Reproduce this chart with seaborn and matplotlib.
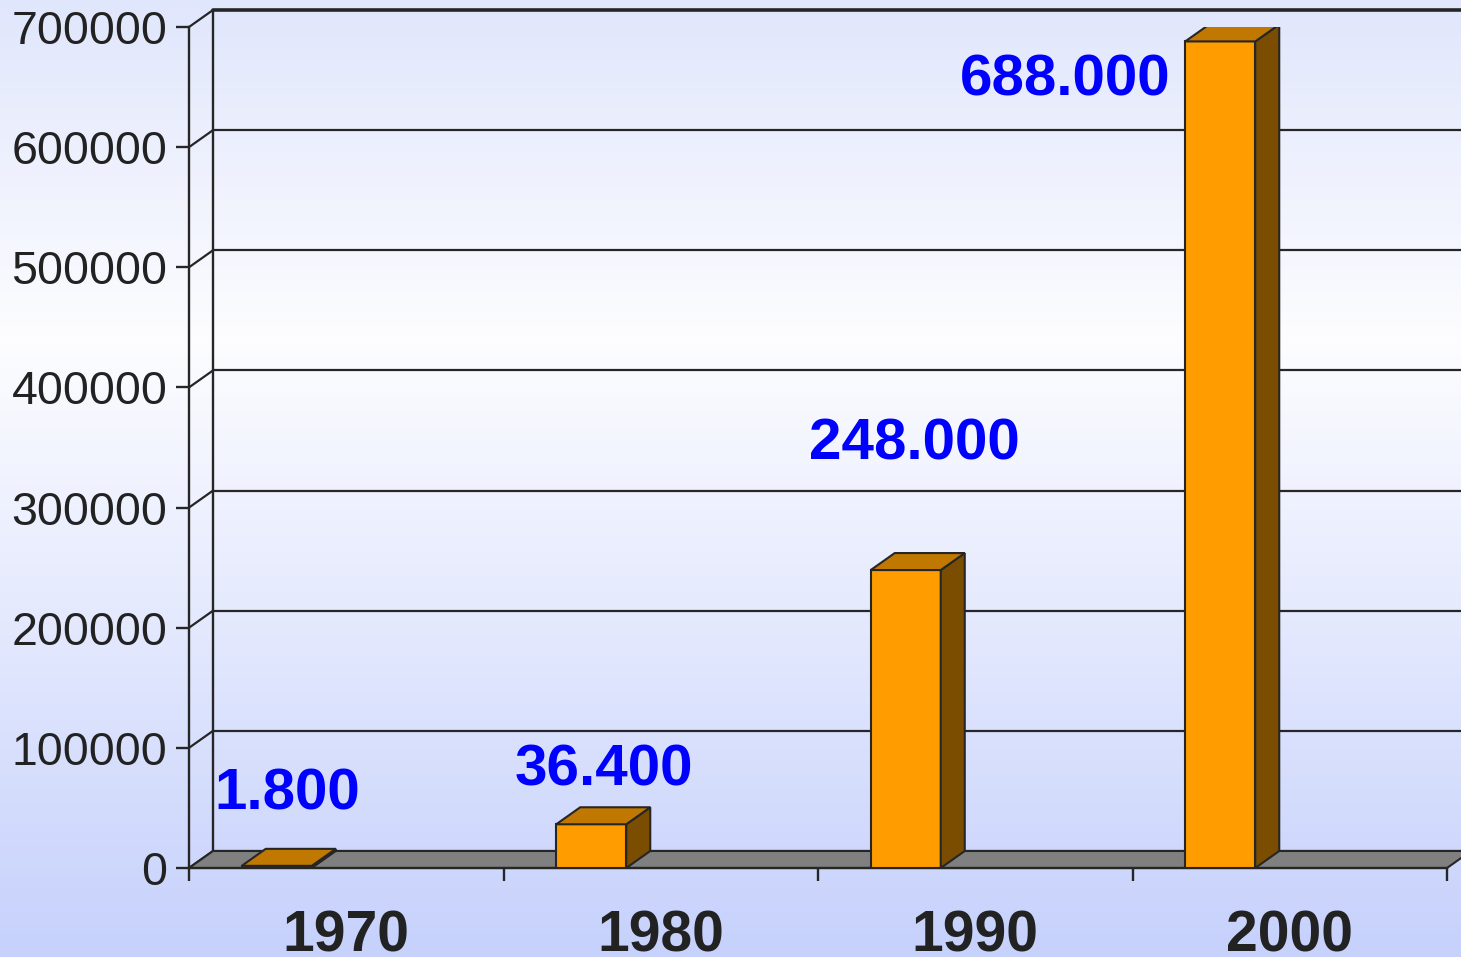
import numpy as np
import matplotlib
matplotlib.use('Agg')
import matplotlib.pyplot as plt
import seaborn as sns
from matplotlib.patches import Polygon
from matplotlib.lines import Line2D

# data
years = ['1970', '1980', '1990', '2000']
values = [1800, 36400, 248000, 688000]
value_labels = ['1.800', '36.400', '248.000', '688.000']
y_ticks = [0, 100000, 200000, 300000, 400000, 500000, 600000, 700000]

# manual label placement (x offset from category centre, baseline y)
label_dx = [-0.188, -0.180, -0.192, -0.715]
label_y = [48300, 68300, 340400, 642600]

# 3d look: depth offset of the back wall
DX = 24 / 314.5
DY = 17 / 841 * 700000
BAR_W = 0.2226
BAR_SHIFT = -0.221

FRONT = '#FF9C00'
TOP = '#C07800'
SIDE = '#7B4D00'
EDGE = '#262626'

sns.set_theme(style='ticks')
plt.rcParams['font.family'] = ['Liberation Sans', 'DejaVu Sans']

fig = plt.figure(figsize=(14.61, 9.57), dpi=100)

# background gradient
bg = fig.add_axes([0, 0, 1, 1], zorder=-1)
rows = np.arange(957)
stops = [0, 340, 956]
grad = np.stack([
    np.interp(rows, stops, [224, 253, 198]),
    np.interp(rows, stops, [230, 253, 209]),
    np.interp(rows, stops, [252, 255, 252]),
], axis=1) / 255.0
bg.imshow(grad[:, None, :], aspect='auto', extent=[0, 1, 0, 1])
bg.axis('off')

ax = fig.add_axes([189 / 1461, 89 / 957, 1258 / 1461, 841 / 957])
ax.set_facecolor('none')

sns.barplot(x=years, y=values, color=FRONT, saturation=1, width=BAR_W,
            edgecolor=EDGE, linewidth=1.5, ax=ax, zorder=4)

ax.set_xlim(-0.5, 3.5)
ax.set_ylim(0, 700000)

# back wall gridlines and left wall diagonals
for v in y_ticks:
    lw = 2.6 if v == 700000 else 1.6
    ax.add_line(Line2D([-0.5 + DX, 3.5 + DX], [v + DY, v + DY], color=EDGE,
                       lw=lw, zorder=1, clip_on=False))
    ax.add_line(Line2D([-0.5, -0.5 + DX], [v, v + DY], color=EDGE,
                       lw=1.6, zorder=1, clip_on=False))
ax.add_line(Line2D([-0.5 + DX, -0.5 + DX], [DY, 700000 + DY], color=EDGE,
                   lw=1.7, zorder=1, clip_on=False))

# floor
floor = Polygon([(-0.5, 0), (3.5, 0), (3.5 + DX, DY), (-0.5 + DX, DY)],
                closed=True, facecolor='#808080', edgecolor=EDGE, lw=1.5,
                zorder=2, clip_on=False)
ax.add_patch(floor)

# shift the bars and add top / side faces
for p, h in zip(ax.patches[:len(values)], values):
    p.set_x(p.get_x() + BAR_SHIFT)
    x0 = p.get_x()
    x1 = x0 + p.get_width()
    side = Polygon([(x1, 0), (x1 + DX, DY), (x1 + DX, h + DY), (x1, h)],
                   closed=True, facecolor=SIDE, edgecolor=EDGE, lw=1.5, zorder=4)
    top = Polygon([(x0, h), (x1, h), (x1 + DX, h + DY), (x0 + DX, h + DY)],
                  closed=True, facecolor=TOP, edgecolor=EDGE, lw=1.5, zorder=4)
    ax.add_patch(side)
    ax.add_patch(top)

# value labels
for i, (txt, dx, y) in enumerate(zip(value_labels, label_dx, label_y)):
    ax.text(i + dx, y, txt, ha='center', va='baseline', color='#0000FF',
            fontsize=42, fontweight='bold', zorder=6)

# axes styling
for s in ['top', 'right']:
    ax.spines[s].set_visible(False)
for s in ['left', 'bottom']:
    ax.spines[s].set_color(EDGE)
    ax.spines[s].set_linewidth(1.7)
    ax.spines[s].set_zorder(3)

ax.set_yticks(y_ticks)
ax.set_yticklabels([str(v) for v in y_ticks])
ax.tick_params(axis='y', length=9.5, width=1.7, color=EDGE, pad=6,
               labelsize=33.5, labelcolor='#222222')

ax.set_xticks([-0.5, 0.5, 1.5, 2.5, 3.5])
ax.set_xticklabels([])
ax.set_xticks(range(len(years)), minor=True)
ax.set_xticklabels(years, minor=True, fontsize=41, fontweight='bold', color='#222222')
ax.tick_params(axis='x', which='major', length=9.5, width=1.7, color=EDGE)
ax.tick_params(axis='x', which='minor', length=0, pad=30)
ax.set_xlabel('')
ax.set_ylabel('')

fig.savefig('out.png', dpi=100)
